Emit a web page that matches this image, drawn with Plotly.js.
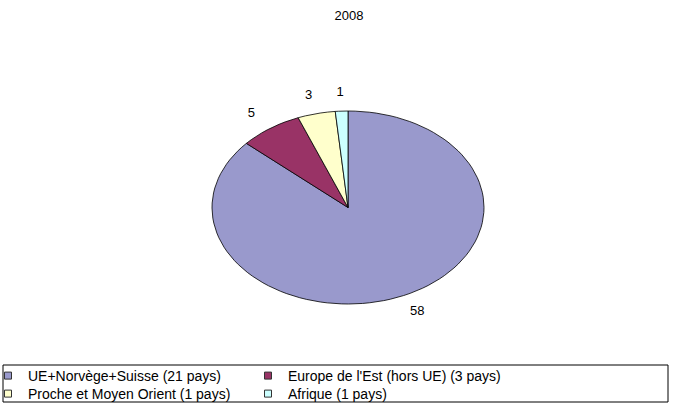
<!DOCTYPE html>
<html><head><meta charset="utf-8">
<script src="https://cdn.plot.ly/plotly-3.0.1.min.js"></script>
<style>html,body{margin:0;padding:0;background:#fff}</style>
</head><body><div id="chart" style="width:675px;height:412px"></div>
<script>
const categories = ["UE+Norvège+Suisse (21 pays)", "Europe de l'Est (hors UE) (3 pays)", "Proche et Moyen Orient (1 pays)", "Afrique (1 pays)"];
const values = [58, 5, 3, 1];
const colors = ["#9999CC", "#993366", "#FFFFCC", "#CCFFFF"];
const chartTitle = "2008";

// ellipse geometry (pixel-like axis units)
const W = 675, H = 412;
const cx = 348, cy = 207.5, rx = 136, ry = 96.5;
const labDx = 33, labDy = 18;
const FONT = "Liberation Sans, Arial, sans-serif";

const total = values.reduce((a, b) => a + b, 0);
const traces = [];
let acc = 0;
const labX = [], labY = [], labT = [];
values.forEach((v, i) => {
  const f0 = acc / total, f1 = (acc + v) / total;
  acc += v;
  const n = Math.max(4, Math.round((f1 - f0) * 120));
  const xs = [cx], ys = [cy];
  for (let k = 0; k <= n; k++) {
    const t = 2 * Math.PI * (f0 + (f1 - f0) * k / n);
    xs.push(cx + rx * Math.sin(t));
    ys.push(cy - ry * Math.cos(t));
  }
  xs.push(cx); ys.push(cy);
  traces.push({
    type: 'scatter', mode: 'lines', x: xs, y: ys, fill: 'toself',
    fillcolor: colors[i], line: {color: '#000', width: 0.8},
    showlegend: false, hoverinfo: 'skip'
  });
  const tm = 2 * Math.PI * (f0 + f1) / 2;
  labX.push(cx + (rx + labDx) * Math.sin(tm));
  labY.push(cy - (ry + labDy) * Math.cos(tm));
  labT.push(String(v));
});
traces.push({
  type: 'scatter', mode: 'text', x: labX, y: labY, text: labT,
  textfont: {family: FONT, size: 13, color: '#000'}, showlegend: false, hoverinfo: 'skip'
});

// legend: 2 columns x 2 rows, one legend box per entry for exact placement
const legendIds = ['legend', 'legend2', 'legend3', 'legend4'];
const colLeft = [0, 260], rowTop = [360, 378];
const layout = {
  width: W, height: H,
  margin: {l: 0, r: 0, t: 0, b: 0},
  paper_bgcolor: '#fff', plot_bgcolor: '#fff',
  title: {text: chartTitle, font: {family: FONT, size: 13, color: '#000'}, x: 0.517, xanchor: 'center', y: 0.963, yanchor: 'middle'},
  xaxis: {range: [0, W], visible: false, fixedrange: true},
  yaxis: {range: [H, 0], visible: false, fixedrange: true},
  showlegend: true,
  shapes: [{type: 'rect', xref: 'paper', yref: 'paper', x0: 3 / W, x1: 668 / W, y0: 1 - 402 / H, y1: 1 - 365 / H, line: {color: '#000', width: 1}}]
};
categories.forEach((c, i) => {
  traces.push({
    type: 'scatter', mode: 'markers', x: [null], y: [null], name: c, legend: legendIds[i],
    marker: {symbol: 'square', size: 7, color: colors[i], line: {color: '#333', width: 1}}
  });
  layout[legendIds[i]] = {
    orientation: 'v', xanchor: 'left', yanchor: 'top', indentation: -12,
    x: colLeft[i % 2] / W, y: 1 - rowTop[Math.floor(i / 2)] / H,
    font: {family: FONT, size: 14, color: '#000'},
    bgcolor: 'rgba(0,0,0,0)', borderwidth: 0
  };
});
Plotly.newPlot('chart', traces, layout, {displayModeBar: false, staticPlot: true});
</script></body></html>
